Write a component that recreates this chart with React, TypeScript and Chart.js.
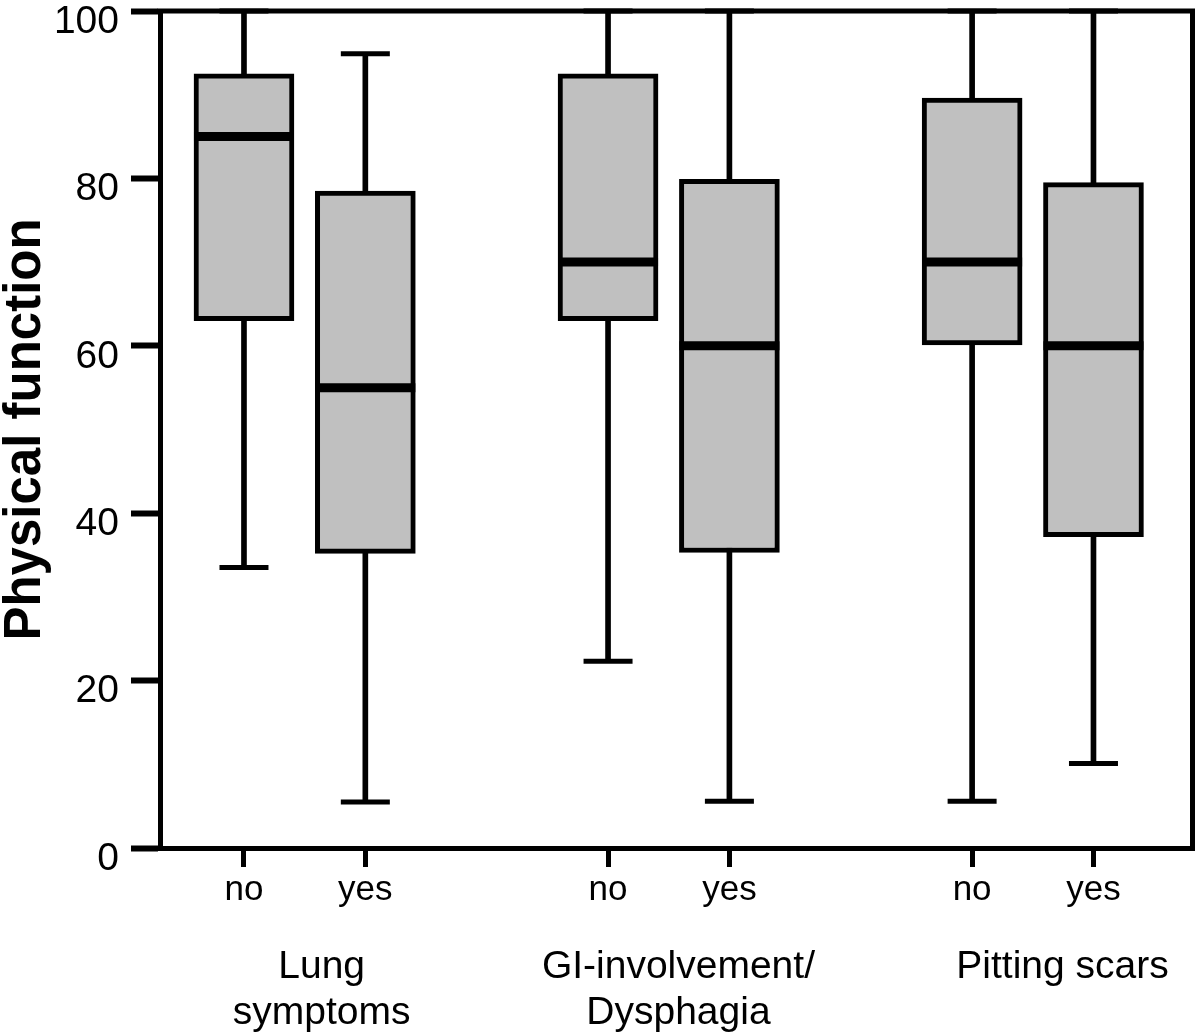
import React, { useEffect, useRef } from 'react';
import { Chart, registerables } from 'chart.js';

Chart.register(...registerables);

// ---- data ----
const CATEGORY_LABELS = ['no', 'yes', 'no', 'yes', 'no', 'yes'];
const GROUP_LABELS = [['Lung', 'symptoms'], ['GI-involvement/', 'Dysphagia'], ['Pitting scars']];
const WHISKER_LOW = [33.5, 5.5, 22.3, 5.6, 5.6, 10.1];
const Q1 = [63.0, 35.2, 63.0, 35.3, 60.1, 37.2];
const MEDIAN = [85.0, 55.0, 70.0, 60.0, 70.0, 60.0];
const Q3 = [92.5, 78.5, 92.5, 79.9, 89.6, 79.5];
const WHISKER_HIGH = [100, 94.9, 100, 100, 100, 100];
const Y_TICKS = [0, 20, 40, 60, 80, 100];

// ---- layout constants (category slots on the x axis) ----
const X_POS = [1, 2, 4, 5, 7, 8];
const GROUP_POS = [1.64, 4.58, 7.745];
const X_MIN = 0.308;
const X_MAX = 8.816;

const FONT = 'Arial, "Liberation Sans", Helvetica, sans-serif';

function fixSize(prop: 'width' | 'height', value: number) {
  return (s: any) => {
    s[prop] = value;
    s.paddingLeft = 0;
    s.paddingRight = 0;
    s.paddingTop = 0;
    s.paddingBottom = 0;
  };
}

// closes the plot frame (top and right edges of the chart area)
const framePlugin = {
  id: 'frame',
  afterDatasetsDraw(chart: any) {
    const { ctx, chartArea: a } = chart;
    const w = 5;
    ctx.save();
    ctx.strokeStyle = '#000';
    ctx.lineWidth = w;
    ctx.lineCap = 'butt';
    ctx.beginPath();
    ctx.moveTo(a.left - w / 2, a.top);
    ctx.lineTo(a.right + w / 2, a.top);
    ctx.moveTo(a.right, a.top - w / 2);
    ctx.lineTo(a.right, a.bottom + w / 2);
    ctx.stroke();
    ctx.restore();
  },
};

export default function App() {
  const ref = useRef<HTMLCanvasElement>(null);

  useEffect(() => {
    const canvas = ref.current;
    if (!canvas) return;

    const chart = new Chart(canvas, {
      type: 'bar',
      data: {
        datasets: [
          {
            type: 'bar',
            label: 'whisker',
            data: X_POS.map((x, i) => ({ x, y: [WHISKER_LOW[i], WHISKER_HIGH[i]] })) as any,
            backgroundColor: '#000',
            borderWidth: 0,
            grouped: false,
            barThickness: 5,
            maxBarThickness: 5,
            order: 3,
          } as any,
          {
            type: 'bar',
            label: 'box',
            data: X_POS.map((x, i) => ({ x, y: [Q1[i], Q3[i]] })) as any,
            backgroundColor: '#c0c0c0',
            borderColor: '#000',
            borderWidth: 5,
            borderSkipped: false,
            grouped: false,
            barThickness: 100,
            maxBarThickness: 100,
            order: 2,
          } as any,
          {
            type: 'line',
            label: 'caps',
            showLine: false,
            data: [
              ...X_POS.map((x, i) => ({ x, y: WHISKER_LOW[i] })),
              ...X_POS.map((x, i) => ({ x, y: WHISKER_HIGH[i] })),
            ],
            pointStyle: 'line',
            pointRadius: 24.5,
            pointBorderWidth: 5,
            pointBorderColor: '#000',
            pointBackgroundColor: '#000',
            clip: false,
            order: 1,
          } as any,
          {
            type: 'line',
            label: 'median',
            showLine: false,
            data: X_POS.map((x, i) => ({ x, y: MEDIAN[i] })),
            pointStyle: 'line',
            pointRadius: 50,
            pointBorderWidth: 9,
            pointBorderColor: '#000',
            pointBackgroundColor: '#000',
            order: 0,
          } as any,
        ],
      },
      options: {
        animation: false,
        responsive: true,
        maintainAspectRatio: false,
        events: [],
        layout: { autoPadding: false, padding: { left: 0, right: 7.5, top: 11, bottom: 0 } },
        plugins: {
          legend: { display: false },
          tooltip: { enabled: false },
        },
        scales: {
          x: {
            type: 'linear',
            position: 'bottom',
            weight: 0,
            min: X_MIN,
            max: X_MAX,
            offset: false,
            afterBuildTicks: (s: any) => {
              s.ticks = X_POS.map((v) => ({ value: v }));
            },
            afterFit: fixSize('height', 70),
            ticks: {
              autoSkip: false,
              maxRotation: 0,
              minRotation: 0,
              padding: 2,
              color: '#000',
              font: { family: FONT, size: 35 },
              callback: (_v: any, i: number) => CATEGORY_LABELS[i],
            },
            grid: {
              display: true,
              drawOnChartArea: false,
              drawTicks: true,
              tickLength: 19,
              tickWidth: 5,
              tickColor: '#000',
              lineWidth: 5,
              color: '#000',
              offset: false,
            },
            border: { display: true, width: 5, color: '#000' },
          },
          xg: {
            type: 'linear',
            position: 'bottom',
            weight: 1,
            min: X_MIN,
            max: X_MAX,
            offset: false,
            afterBuildTicks: (s: any) => {
              s.ticks = GROUP_POS.map((v) => ({ value: v }));
            },
            afterFit: fixSize('height', 118),
            ticks: {
              autoSkip: false,
              maxRotation: 0,
              minRotation: 0,
              padding: 18.5,
              color: '#000',
              font: { family: FONT, size: 39, lineHeight: 1.18 },
              callback: (_v: any, i: number) => GROUP_LABELS[i],
            },
            grid: { display: false, offset: false },
            border: { display: false },
          },
          y: {
            type: 'linear',
            position: 'left',
            min: 0,
            max: 100,
            afterBuildTicks: (s: any) => {
              s.ticks = Y_TICKS.map((v) => ({ value: v }));
            },
            afterFit: fixSize('width', 160),
            ticks: {
              padding: 12,
              labelOffset: 11,
              color: '#000',
              font: { family: FONT, size: 39 },
            },
            grid: {
              display: true,
              drawOnChartArea: false,
              drawTicks: true,
              tickLength: 29,
              tickWidth: 6,
              tickColor: '#000',
              lineWidth: 5,
              color: '#000',
            },
            border: { display: true, width: 5, color: '#000' },
            title: {
              display: true,
              text: 'Physical function',
              color: '#000',
              font: { family: FONT, size: 51, weight: 'bold', lineHeight: 1 },
              padding: { top: 0, bottom: 0 },
            },
          },
        } as any,
      },
      plugins: [framePlugin],
    });

    return () => chart.destroy();
  }, []);

  return (
    <div
      style={{
        position: 'absolute',
        left: 0,
        top: 0,
        width: 1200,
        height: 1036,
        background: '#fff',
      }}
    >
      <canvas ref={ref} />
    </div>
  );
}
